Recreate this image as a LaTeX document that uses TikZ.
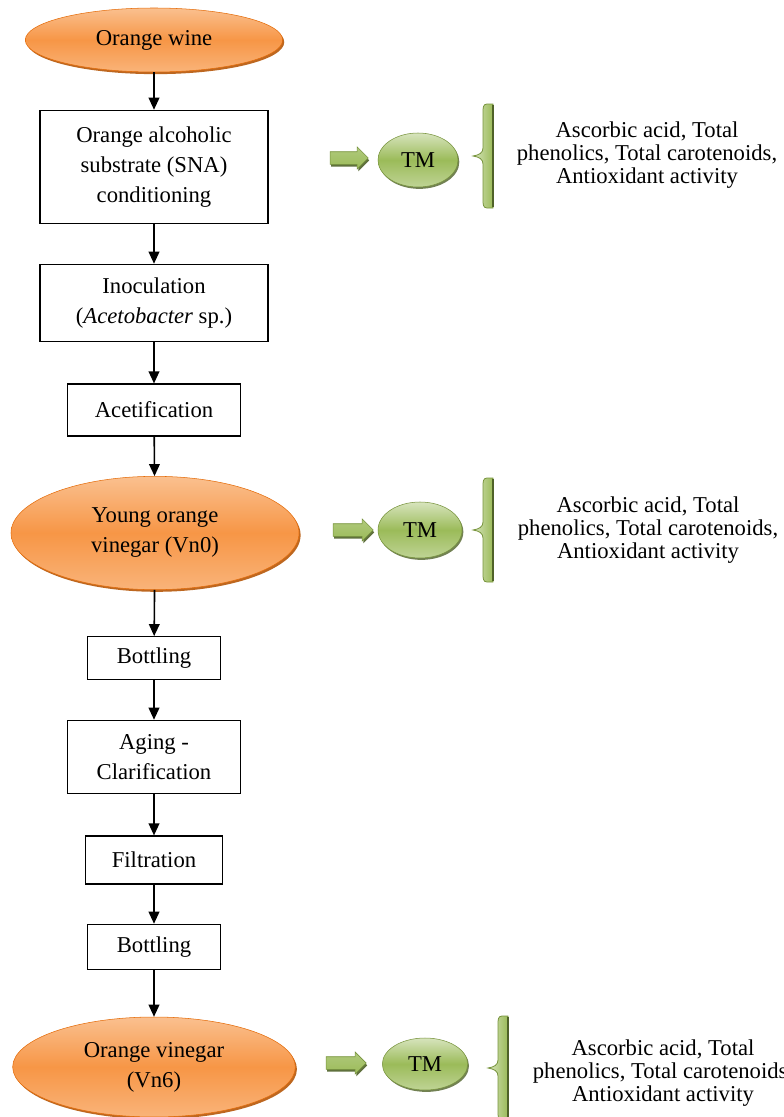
\documentclass[tikz,border=0pt]{standalone}
\usepackage{fontspec}
\setmainfont{Liberation Serif}
\usetikzlibrary{shapes.geometric,shapes.arrows,shadows,arrows.meta}

\definecolor{orangemid}{HTML}{F79646}
\definecolor{orangelight}{HTML}{FAC08F}
\definecolor{orangedark}{HTML}{B65708}
\definecolor{orangeedge}{HTML}{E46C0A}
\definecolor{greenmid}{HTML}{9BBB59}
\definecolor{greenlight}{HTML}{D7E4BD}
\definecolor{greendark}{HTML}{4F6228}
\definecolor{greenedge}{HTML}{77933C}

\tikzset{
  flowtext/.style={font=\fontsize{17}{22.5}\selectfont, align=center},
  sidetext/.style={font=\fontsize{17}{17.5}\selectfont, align=center},
  procbox/.style={draw=black, line width=0.9pt, fill=white, inner sep=0pt, flowtext},
  product/.style={ellipse, draw=orangeedge, line width=0.4pt, inner sep=0pt, flowtext,
    top color=orangelight, bottom color=orangelight!70!orangemid, middle color=orangemid,
    drop shadow={shadow xshift=1.2pt, shadow yshift=-1.6pt, fill=orangedark, opacity=0.9}},
  tmnode/.style={ellipse, draw=greenedge, line width=0.4pt, inner sep=0pt, flowtext,
    top color=greenlight, bottom color=greenlight!60!greenmid, middle color=greenmid,
    drop shadow={shadow xshift=1pt, shadow yshift=-1.4pt, fill=greendark, opacity=0.8}},
  greenarrow/.style={single arrow, draw=greenedge, line width=0.4pt, inner sep=4.5pt,
    single arrow head extend=3.5pt, minimum width=16pt,
    top color=greenmid!65!greenlight, bottom color=greenmid,
    drop shadow={shadow xshift=0.8pt, shadow yshift=-1.8pt, fill=greendark, opacity=0.9}},
  bracestyle/.style={draw=greenedge, line width=0.6pt, left color=greenlight, right color=greenmid},
  flowarrow/.style={line width=1.2pt, -{Triangle[width=8pt,length=9pt]}}
}

% brace pointing left, #1/#2 = tip
\newcommand{\greenbrace}[2]{%
  \begin{scope}[shift={(#1,#2)}]
    \draw[bracestyle] (20,-52) -- (14,-52) .. controls (10,-52) and (10,-48) .. (10,-44)
      -- (10,-8) .. controls (10,-3) and (6,-1) .. (0,0)
      .. controls (6,1) and (10,3) .. (10,8) -- (10,44)
      .. controls (10,48) and (10,52) .. (14,52) -- (20,52) -- cycle;
    \draw[greendark, line width=1pt] (20,-51) -- (20,51);
  \end{scope}}

\begin{document}
\begin{tikzpicture}[x=0.75pt, y=-0.75pt]
  \useasboundingbox (0,0) rectangle (784,1117);

  % main process line
  \node[product, minimum width=193pt, minimum height=48pt] (wine) at (154,40) {Orange wine};
  \node[procbox, minimum width=171pt, minimum height=85pt] (sna) at (154,167)
    {Orange alcoholic\\substrate (SNA)\\conditioning};
  \node[procbox, minimum width=171pt, minimum height=58pt] (inoc) at (154,303)
    {Inoculation\\(\textit{Acetobacter} sp.)};
  \node[procbox, minimum width=130pt, minimum height=39pt] (acet) at (154,410) {Acetification};
  \node[product, minimum width=216pt, minimum height=85pt] (young) at (155,533)
    {Young orange\\vinegar (Vn0)};
  \node[procbox, minimum width=100pt, minimum height=32pt] (bott1) at (154,658) {Bottling};
  \node[procbox, minimum width=130pt, minimum height=55pt] (aging) at (154,757)
    {Aging -\\Clarification};
  \node[procbox, minimum width=103pt, minimum height=36pt] (filt) at (154,860) {Filtration};
  \node[procbox, minimum width=100pt, minimum height=34pt] (bott2) at (154,947) {Bottling};
  \node[product, minimum width=212pt, minimum height=75pt] (vinegar) at (154,1067)
    {Orange vinegar\\(Vn6)};

  \draw[flowarrow] (wine) -- (sna);
  \draw[flowarrow] (sna) -- (inoc);
  \draw[flowarrow] (inoc) -- (acet);
  \draw[flowarrow] (acet) -- (young);
  \draw[flowarrow] (young) -- (bott1);
  \draw[flowarrow] (bott1) -- (aging);
  \draw[flowarrow] (aging) -- (filt);
  \draw[flowarrow] (filt) -- (bott2);
  \draw[flowarrow] (bott2) -- (vinegar);

  % analyses (TM)
  \node[greenarrow, minimum height=28.5pt] (garr1) at (346,158) {};
  \node[tmnode, minimum width=60pt, minimum height=40.5pt] (tm1) at (418,160) {TM};
  \greenbrace{473}{156}
  \node[sidetext] (par1) at (647,155)
    {Ascorbic acid, Total\\phenolics, Total carotenoids,\\Antioxidant activity};

  \node[greenarrow, minimum height=30pt] (garr2) at (350,530) {};
  \node[tmnode, minimum width=63pt, minimum height=42pt] (tm2) at (420,530) {TM};
  \greenbrace{473}{530}
  \node[sidetext] (par2) at (648,530)
    {Ascorbic acid, Total\\phenolics, Total carotenoids,\\Antioxidant activity};

  \node[greenarrow, minimum height=30pt] (garr3) at (343,1063) {};
  \node[tmnode, minimum width=64pt, minimum height=39pt] (tm3) at (425,1064) {TM};
  \greenbrace{488}{1068}
  \node[sidetext] (par3) at (663,1073)
    {Ascorbic acid, Total\\phenolics, Total carotenoids,\\Antioxidant activity};
\end{tikzpicture}
\end{document}
